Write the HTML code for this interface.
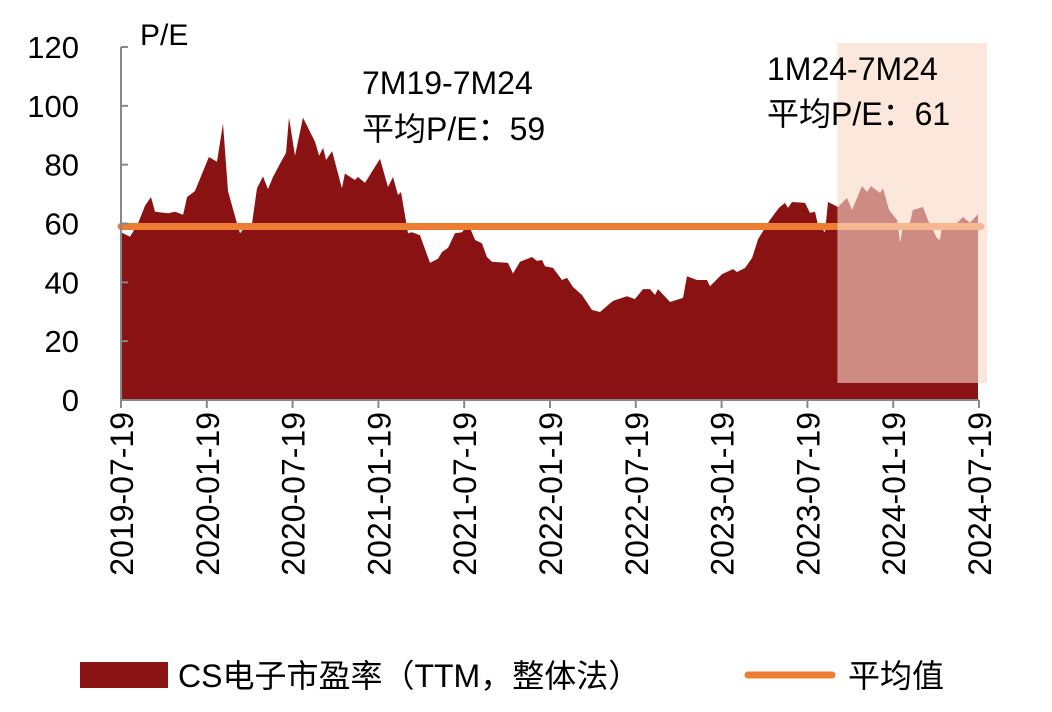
<!DOCTYPE html>
<html><head><meta charset="utf-8"><style>
html,body{margin:0;padding:0;background:#fff;}
svg{display:block;font-family:"Liberation Sans","Noto Sans CJK SC",sans-serif;}
</style></head><body>
<svg id="chart" width="1052" height="712" viewBox="0 0 1052 712"></svg>
<script>
const months=[0,0.63,1.19,1.68,2.1,2.38,3.29,3.78,4.34,4.62,5.17,6.15,6.71,7.13,7.48,8.11,8.32,8.88,9.16,9.51,9.93,10.28,10.63,11.26,11.54,11.75,12.17,12.73,13.57,13.85,14.13,14.34,14.76,15.45,15.66,16.36,16.57,17.06,18.11,18.67,19.02,19.37,19.58,20.07,20.35,20.91,21.61,22.17,22.45,22.87,23.36,23.85,24.27,24.76,25.24,25.59,25.94,27.06,27.41,27.9,28.74,29.09,29.44,29.65,30.21,30.84,31.19,31.61,32.24,32.94,33.5,34.06,34.41,35.38,35.94,36.5,36.99,37.34,37.55,38.39,39.3,39.58,40.28,40.98,41.19,42.03,42.8,43.08,43.64,44.13,44.55,45.38,46.01,46.43,46.64,46.92,47.83,48.18,48.53,48.74,49.23,49.44,50.14,50.77,51.12,51.82,52.17,52.45,53.08,53.29,53.71,54.27,54.48,54.69,55.17,55.38,56.08,56.43,57.06,57.27,57.41,58.18,58.88,59.37,59.93];
const peValues=[57,55.5,60,66,69,64,63.5,64,63,69,71,82.6,81,94,71,60,56.7,60,60,72,76,71.7,75.8,81.6,84,96,83,96,87.7,83,85.7,81.6,84.6,72,77,74.8,75.8,73.8,82,72.4,75.8,69.7,70.7,56.7,57,56,46.6,48,50.3,51.7,56.7,57,60,54.4,53.3,48.6,47,46.6,43,47,48.6,47.3,47.6,45.5,44.9,40.8,41.5,38.4,35.7,30.6,29.9,32.3,33.7,35.3,34.3,37.7,37.7,35.7,37.7,33.3,34.7,42.1,40.8,40.8,38.7,42.8,44.5,43.5,44.9,48.3,54.7,61.2,65.3,67,65.3,67.3,67,63.6,64,59.5,57,67.3,65.6,68.7,64.6,72.7,70.7,72.7,70.4,72,64.6,61.2,53.4,59.5,60.2,64.6,65.6,61.2,55,54.4,59.5,58.8,62.2,60.2,63.2];
const avgValue=[59];
const yTicks=[0,20,40,60,80,100,120];
const xTickLabels=["2019-07-19","2020-01-19","2020-07-19","2021-01-19","2021-07-19","2022-01-19","2022-07-19","2023-01-19","2023-07-19","2024-01-19","2024-07-19"];
const xTickMonths=[0,6,12,18,24,30,36,42,48,54,60];
const highlightStart=[50.1];

const NS="http://www.w3.org/2000/svg";
const svg=document.getElementById('chart');
const X0=121,X1=979,Y0=400,Y1=47;
const xs=m=>X0+m*(X1-X0)/60;
const ys=v=>Y0-v*(Y0-Y1)/120;
function mk(tag,attrs,parent){const e=document.createElementNS(NS,tag);for(const k in attrs)e.setAttribute(k,attrs[k]);(parent||svg).appendChild(e);return e;}

const hx=xs(highlightStart[0]);
const hb=mk('rect',{x:hx,y:43,width:987-hx,height:340,fill:'#fdefe7'});



let d='M'+xs(months[0])+','+ys(0);
months.forEach((m,i)=>{d+=' L'+xs(m).toFixed(1)+','+ys(peValues[i]).toFixed(1);});
d+=' L'+xs(months[months.length-1])+','+ys(0)+' Z';
const area=mk('path',{d:d,fill:'#8b1212'});



const avg=mk('line',{x1:X0,x2:X1+2,y1:ys(avgValue[0]),y2:ys(avgValue[0]),stroke:'#ed7d31','stroke-width':7,'stroke-linecap':'round'});



const ho=mk('rect',{x:hx,y:43,width:987-hx,height:340,fill:'rgb(252,226,214)','fill-opacity':0.586});



const ya=mk('line',{x1:X0,x2:X0,y1:Y1,y2:Y0,stroke:'#888','stroke-width':2});


const xa=mk('line',{x1:X0,x2:X1,y1:Y0,y2:Y0,stroke:'#888','stroke-width':2});


yTicks.forEach(v=>{
  const t=mk('line',{x1:X0,x2:X0+7,y1:ys(v),y2:ys(v),stroke:'#888','stroke-width':2});
  
  
  const l=mk('text',{x:79,y:ys(v)+11,'text-anchor':'end','font-size':31,fill:'#000'});
  l.textContent=v;
  
  
});
xTickMonths.forEach((m,i)=>{
  const x=xs(m);
  const t=mk('line',{x1:x,x2:x,y1:Y0,y2:Y0+8,stroke:'#888','stroke-width':2});
  
  
  const l=mk('text',{x:0,y:0,'text-anchor':'end','font-size':32,fill:'#000',transform:'translate('+(x+12)+','+(Y0+12)+') rotate(-90)'});
  l.textContent=xTickLabels[i];
  
  
});
</script>
<script>
(function(){
const svg=document.getElementById('chart');
const NS="http://www.w3.org/2000/svg";
function txt(x,y,s,name,size){const e=document.createElementNS(NS,'text');e.setAttribute('x',x);e.setAttribute('y',y);e.setAttribute('font-size',size||32);e.setAttribute('fill','#000');e.textContent=s;


svg.appendChild(e);return e;}
txt(140,45,'P/E','y-axis-title',30);
txt(362,94,'7M19-7M24','annotation-period-full');
txt(362,140,'平均P/E：59','annotation-avg-full');
txt(767,80,'1M24-7M24','annotation-period-recent');
txt(767,125,'平均P/E：61','annotation-avg-recent');
const r=document.createElementNS(NS,'rect');r.setAttribute('x',80);r.setAttribute('y',662);r.setAttribute('width',88);r.setAttribute('height',26);r.setAttribute('fill','#8b1212');


svg.appendChild(r);
txt(178,687,'CS电子市盈率（TTM，整体法）','legend-label-pe',32);
const l=document.createElementNS(NS,'line');l.setAttribute('x1',748);l.setAttribute('x2',832);l.setAttribute('y1',675);l.setAttribute('y2',675);l.setAttribute('stroke','#ed7d31');l.setAttribute('stroke-width',7);l.setAttribute('stroke-linecap','round');


svg.appendChild(l);
txt(848,687,'平均值','legend-label-average',32);
})();
</script>
</body></html>
